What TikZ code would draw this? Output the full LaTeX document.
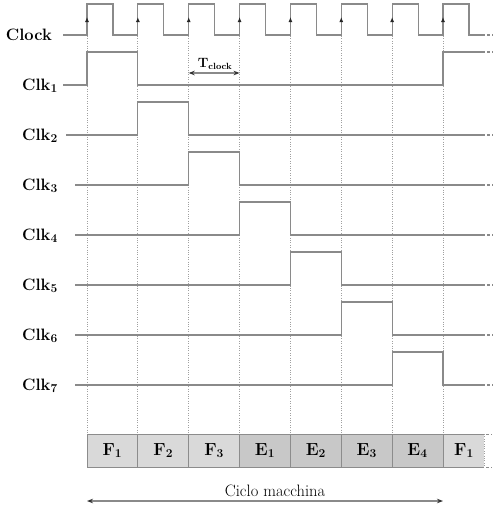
\documentclass[tikz,border=0pt]{standalone}
\usetikzlibrary{arrows.meta}
\definecolor{sigc}{HTML}{8A8A8A}
\definecolor{dotc}{HTML}{A0A0A0}
\definecolor{boxF}{HTML}{D9D9D9}
\definecolor{boxE}{HTML}{C8C8C8}
\definecolor{boxline}{HTML}{8C8C8C}
\begin{document}
\begin{tikzpicture}[x=1pt,y=-1pt,
  sig/.style={draw=sigc,line width=1.2pt},
  cont/.style={draw=sigc,line width=1.2pt,dash pattern=on 3pt off 2pt on 1.2pt off 9pt},
  guide/.style={draw=dotc,line width=0.8pt,dash pattern=on 0.8pt off 1.6pt},
  lab/.style={font=\fontsize{16.5}{19}\selectfont\bfseries,inner sep=0pt},
  phase/.style={draw=boxline,line width=0.9pt,minimum height=33pt,inner sep=0pt,
    font=\fontsize{17.5}{20}\selectfont\bfseries},
  dim/.style={draw=sigc,line width=1.1pt,{Stealth[length=6pt,width=4.5pt,color=black!80]}-{Stealth[length=6pt,width=4.5pt,color=black!80]}},
  edgetip/.style={-{Latex[length=5pt,width=4pt,color=black!85]},draw=sigc,line width=1.2pt}]
\useasboundingbox (0,0) rectangle (496,509);
\def\p{50.857}
% guide lines
\foreach \k in {0,...,7}{
  \draw[guide] ({87+\k*\p},36) -- ({87+\k*\p},434);
}
% clock
\draw[sig] (63,35) \foreach \k in {0,...,7}{ -- ({87+\k*\p},35) -- ({87+\k*\p},4) -- ({113+\k*\p},4) -- ({113+\k*\p},35) } -- (485,35);
\foreach \k in {0,...,7}{
  \draw[edgetip] ({87+\k*\p},27) -- ({87+\k*\p},17);
}
\draw[cont] (487,35) -- (496,35);
\node[lab,anchor=base east] (lclock) at (52,40) {Clock};
% Clk1
\draw[sig] (63,85) -- (87,85) -- (87,52) -- ({87+\p},52) -- ({87+\p},85) -- ({87+7*\p},85) -- ({87+7*\p},52) -- (485,52);
\draw[cont] (487,52) -- (496,52);
\node[lab,anchor=base east] (l1) at (58,90) {Clk$_{\mathbf{1}}$};
% Clk2..7
\foreach \k/\xs in {2/66,3/75,4/75,5/75,6/75,7/75}{
  \pgfmathsetmacro{\L}{85+50*(\k-1)}
  \draw[sig] (\xs,\L) -- ({87+(\k-1)*\p},\L) -- ({87+(\k-1)*\p},\L-33) -- ({87+\k*\p},\L-33) -- ({87+\k*\p},\L) -- (485,\L);
  \draw[cont] (487,\L) -- (496,\L);
  \node[lab,anchor=base east] (l\k) at (58,\L+5) {Clk$_{\mathbf{\k}}$};
}
% T clock
\coordinate (ta) at ({87+2*\p},73);
\coordinate (tb) at ({87+3*\p},73);
\draw[dim] (ta) -- (tb);
\node[font=\fontsize{13.5}{15}\selectfont\bfseries,inner sep=0pt,anchor=base] (tclk) at (215,67) {T$_{\mathbf{clock}}$};
% phase boxes
\foreach \k/\t/\c in {0/F$_{\mathbf 1}$/boxF,1/F$_{\mathbf 2}$/boxF,2/F$_{\mathbf 3}$/boxF,3/E$_{\mathbf 1}$/boxE,4/E$_{\mathbf 2}$/boxE,5/E$_{\mathbf 3}$/boxE,6/E$_{\mathbf 4}$/boxE}{
  \node[phase,fill=\c,minimum width=\p pt] (b\k) at ({87+(\k+0.5)*\p},450.5) {\t};
}
\fill[boxF] ({87+7*\p},434) rectangle (484,467);
\draw[boxline,line width=0.9pt] (484,434) -- ({87+7*\p},434) -- ({87+7*\p},467) -- (484,467);
\draw[guide] (484,434) -- (484,467);
\draw[cont,draw=boxline,line width=0.9pt] (486,434) -- (496,434);
\draw[cont,draw=boxline,line width=0.9pt] (486,467) -- (496,467);
\node[font=\fontsize{17.5}{20}\selectfont\bfseries,inner sep=0pt] (b7) at (464,450.5) {F$_{\mathbf 1}$};
% ciclo macchina
\coordinate (ca) at (87,501);
\coordinate (cb) at ({87+7*\p},501);
\draw[dim] (ca) -- (cb);
\node[font=\fontsize{16.5}{19}\selectfont,inner sep=0pt,anchor=base] (cm) at (275,496) {Ciclo macchina};
\end{tikzpicture}
\end{document}
